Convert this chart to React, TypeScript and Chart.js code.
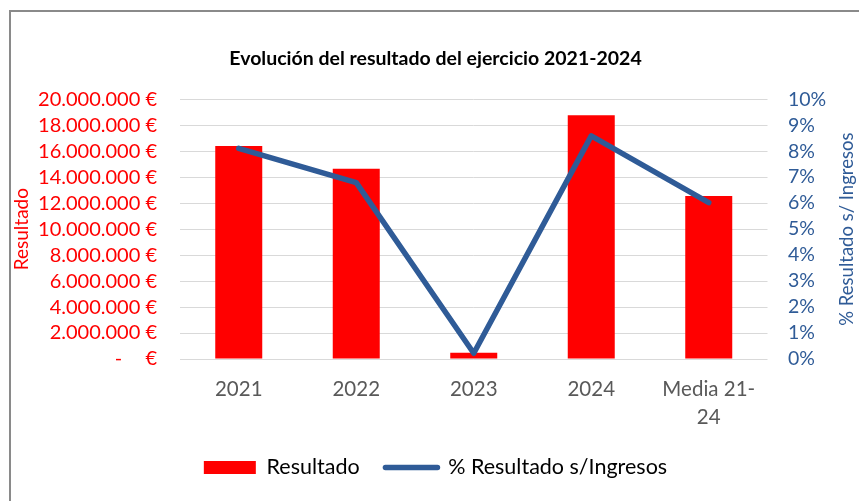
import React, { useEffect, useRef } from 'react';
import { Chart, registerables } from 'chart.js';

Chart.register(...registerables);

const chartTitle = 'Evolución del resultado del ejercicio 2021-2024';
const categories: (string | string[])[] = ['2021', '2022', '2023', '2024', ['Media 21-', '24']];
const resultado = [16400000, 14660000, 490000, 18770000, 12550000];
const pctIngresos = [8.11, 6.79, 0.22, 8.59, 6.02];
const leftTicks = [0, 2000000, 4000000, 6000000, 8000000, 10000000, 12000000, 14000000, 16000000, 18000000, 20000000];
const rightTicks = [0, 1, 2, 3, 4, 5, 6, 7, 8, 9, 10];
const barLabel = 'Resultado';
const lineLabel = '% Resultado s/Ingresos';
const leftAxisTitle = 'Resultado';
const rightAxisTitle = '% Resultado s/ Ingresos';

const RED = '#FF0000';
const BLUE = '#2F5B97';
const GREY_TEXT = '#595959';
const GRID = '#D9D9D9';
const FONT = 'Lato';

const formatEuro = (v: number) => {
  if (v === 0) return '-\u2007\u2007€';
  return v.toLocaleString('de-DE') + ' €';
};

const rightTitlePlugin = {
  id: 'rightTitle',
  afterDraw(chart: any) {
    const { ctx, chartArea } = chart;
    const s = chart.scales.y1;
    ctx.save();
    ctx.translate(s.right - 12, (chartArea.top + chartArea.bottom) / 2);
    ctx.rotate(-Math.PI / 2);
    ctx.font = `18.5px ${FONT}`;
    ctx.fillStyle = BLUE;
    ctx.textAlign = 'center';
    ctx.textBaseline = 'middle';
    ctx.fillText(rightAxisTitle, 0, 0);
    ctx.restore();
  },
};

export default function App() {
  const ref = useRef<HTMLCanvasElement | null>(null);

  useEffect(() => {
    if (!ref.current) return;
    Chart.defaults.font.family = FONT;
    const chart = new Chart(ref.current, {
      type: 'bar',
      data: {
        labels: categories as any,
        datasets: [
          {
            type: 'bar',
            label: barLabel,
            data: resultado,
            backgroundColor: RED,
            borderWidth: 0,
            yAxisID: 'y',
            order: 2,
            categoryPercentage: 1,
            barPercentage: 0.4,
          },
          {
            type: 'line',
            label: lineLabel,
            data: pctIngresos,
            borderColor: BLUE,
            backgroundColor: BLUE,
            borderWidth: 5.5,
            borderCapStyle: 'round',
            borderJoinStyle: 'round',
            pointRadius: 0,
            tension: 0,
            yAxisID: 'y1',
            order: 1,
          } as any,
        ],
      },
      options: {
        responsive: true,
        maintainAspectRatio: false,
        animation: false,
        layout: { padding: { left: 12, right: 0, top: 0, bottom: 12.75 } },
        plugins: {
          tooltip: { enabled: false },
          title: {
            display: true,
            text: chartTitle,
            color: '#000000',
            font: { family: FONT, size: 19.5, weight: 'bold' },
            padding: { top: 47.3, bottom: 28.6 },
          },
          legend: {
            display: true,
            position: 'bottom',
            labels: {
              usePointStyle: true,
              pointStyleWidth: 52,
              boxHeight: 13,
              padding: 25.75,
              color: '#000000',
              font: { family: FONT, size: 21.5 },
              generateLabels: () => [
                {
                  text: barLabel,
                  fillStyle: RED,
                  strokeStyle: RED,
                  lineWidth: 0,
                  pointStyle: 'rect',
                  hidden: false,
                  datasetIndex: 0,
                  fontColor: '#000000',
                },
                {
                  text: lineLabel,
                  fillStyle: BLUE,
                  strokeStyle: BLUE,
                  lineWidth: 5.5,
                  lineCap: 'round',
                  pointStyle: 'line',
                  hidden: false,
                  datasetIndex: 1,
                  fontColor: '#000000',
                } as any,
              ],
            },
          },
        },
        scales: {
          x: {
            grid: { display: false },
            border: { display: false },
            ticks: {
              color: GREY_TEXT,
              font: { family: FONT, size: 20.5, lineHeight: 1.35 },
              padding: 9,
              maxRotation: 0,
              autoSkip: false,
            },
            afterFit: (s: any) => {
              s.height = 72;
            },
          },
          y: {
            position: 'left',
            min: 0,
            max: 20000000,
            grid: { color: GRID, lineWidth: 1, drawTicks: false },
            border: { display: false },
            afterBuildTicks: (s: any) => {
              s.ticks = leftTicks.map((v) => ({ value: v }));
            },
            ticks: {
              color: RED,
              font: { family: FONT, size: 20, lineHeight: 1.0 },
              padding: 23,
              autoSkip: false,
              callback: (v: any) => formatEuro(Number(v)),
            },
            title: {
              display: true,
              text: leftAxisTitle,
              color: RED,
              font: { family: FONT, size: 19, lineHeight: 1.0 },
              padding: { top: 0, bottom: 0 },
            },
            afterFit: (s: any) => {
              s.width = 168;
            },
          },
          y1: {
            position: 'right',
            min: 0,
            max: 10,
            grid: { display: false, drawTicks: false },
            border: { display: false },
            afterBuildTicks: (s: any) => {
              s.ticks = rightTicks.map((v) => ({ value: v }));
            },
            ticks: {
              color: BLUE,
              font: { family: FONT, size: 19.5, lineHeight: 1.0 },
              padding: 20.5,
              autoSkip: false,
              callback: (v: any) => `${v}%`,
            },
            afterFit: (s: any) => {
              s.width = 91.5;
            },
          },
        },
      },
      plugins: [rightTitlePlugin],
    });
    return () => chart.destroy();
  }, []);

  return (
    <div style={{ position: 'fixed', left: 0, top: 0, width: 859, height: 501, background: '#ffffff', overflow: 'hidden' }}>
      <canvas ref={ref} />
      <div
        style={{
          position: 'absolute',
          left: 9,
          top: 10,
          width: 900,
          height: 600,
          borderLeft: '2px solid #8a8a8a',
          borderTop: '2px solid #8a8a8a',
          pointerEvents: 'none',
        }}
      />
    </div>
  );
}
